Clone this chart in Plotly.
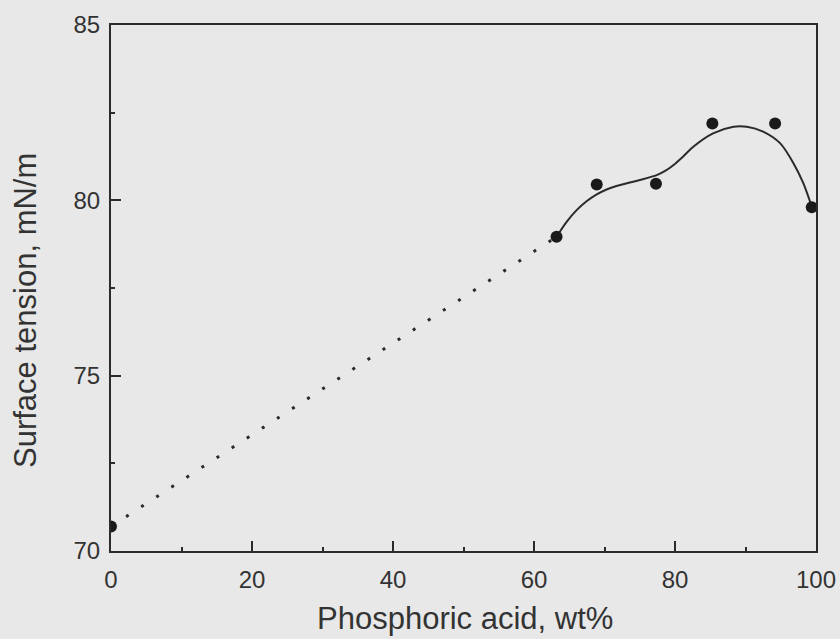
import plotly.graph_objects as go

# Measured data points
acid_wt = [0.0, 63.2, 68.9, 77.3, 85.3, 94.2, 99.4]
surface_tension = [70.7, 78.96, 80.45, 80.47, 82.19, 82.19, 79.8]

# Smooth fitted curve
curve_x = [63.2, 64.6, 66.05, 67.5, 68.9, 70.3, 71.7, 75.0, 77.4, 78.6, 79.8, 81.2, 82.6, 85.4, 88.3, 90.2, 92.5, 94.9, 96.8, 98.2, 99.4]
curve_y = [78.96, 79.38, 79.72, 79.98, 80.17, 80.31, 80.41, 80.58, 80.72, 80.84, 81.01, 81.26, 81.53, 81.91, 82.10, 82.10, 81.96, 81.63, 81.06, 80.49, 79.82]

# Dotted extrapolation to pure water
extrap_x = [0.0, 63.2]
extrap_y = [70.7, 78.96]

x_ticks = [0, 20, 40, 60, 80, 100]
y_ticks = [70, 75, 80, 85]

BG = "#e8e8e8"
INK = "#2b2b2b"
FONT = "Liberation Sans, Arial, sans-serif"

fig = go.Figure()
fig.add_trace(go.Scatter(
    x=extrap_x, y=extrap_y, mode="lines",
    line=dict(color=INK, width=3, dash="3px,15px"),
    hoverinfo="skip", showlegend=False))
fig.add_trace(go.Scatter(
    x=curve_x, y=curve_y, mode="lines",
    line=dict(color=INK, width=2, shape="spline", smoothing=0.8),
    showlegend=False))
fig.add_trace(go.Scatter(
    x=acid_wt, y=surface_tension, mode="markers",
    marker=dict(color="#1a1a1a", size=12),
    showlegend=False))

fig.update_layout(
    width=840, height=639,
    margin=dict(l=111, r=24, t=25, b=88, autoexpand=False),
    paper_bgcolor=BG, plot_bgcolor=BG,
    font=dict(family=FONT, color="#333333", size=24),
    xaxis=dict(
        range=[0, 100], tickvals=x_ticks, ticks="inside", ticklen=10, tickwidth=1.5,
        tickcolor=INK, showgrid=False, zeroline=False, automargin=False,
        showline=True, linecolor=INK, linewidth=2, mirror=True,
        ticklabelstandoff=6,
        minor=dict(ticks="inside", ticklen=4, dtick=10, tick0=0, tickcolor=INK, showgrid=False),
    ),
    yaxis=dict(
        range=[70, 85], tickvals=y_ticks, ticks="inside", ticklen=10, tickwidth=1.5,
        tickcolor=INK, showgrid=False, zeroline=False, automargin=False,
        showline=True, linecolor=INK, linewidth=2, mirror=True,
        ticklabelstandoff=4,
        minor=dict(ticks="inside", ticklen=4, dtick=2.5, tick0=70, tickcolor=INK, showgrid=False),
    ),
    annotations=[
        dict(
            text="Surface tension, mN/m", textangle=-90,
            xref="paper", x=0, xanchor="center", xshift=-86,
            yref="paper", y=0.5, yanchor="middle", yshift=-23,
            showarrow=False, font=dict(size=31, family=FONT, color="#333333"),
        ),
        dict(
            text="Phosphoric acid, wt%",
            xref="paper", x=0.5, xanchor="center", xshift=1,
            yref="paper", y=0, yanchor="middle", yshift=-67,
            showarrow=False, font=dict(size=31, family=FONT, color="#333333"),
        ),
    ],
)

fig.write_html("out.html")
